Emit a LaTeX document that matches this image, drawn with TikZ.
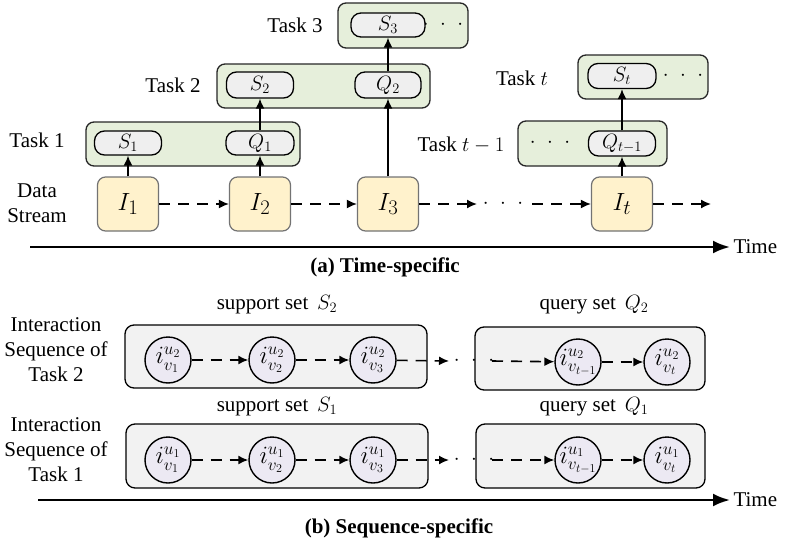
\documentclass[tikz,border=0pt]{standalone}
\usepackage{fontspec}
\setmainfont{Liberation Serif}
\usetikzlibrary{arrows,arrows.meta}
\definecolor{taskgreen}{HTML}{E6EFDB}
\definecolor{setgray}{HTML}{EFEFEF}
\definecolor{imgyellow}{HTML}{FFF2CC}
\definecolor{itemlilac}{HTML}{ECE9F3}
\definecolor{seqgray}{HTML}{F2F2F2}
\newcommand{\tdots}{$\cdot\hspace{7pt}\cdot\hspace{7pt}\cdot$}

\begin{document}
\begin{tikzpicture}[
		x=1pt, y=-1pt,
		font=\fontsize{21}{25}\selectfont,
		taskbox/.style={draw=black!85,line width=1.3pt,fill=taskgreen,rounded corners=8pt},
		setbox/.style={draw=black,line width=1.3pt,fill=setgray,rounded corners=10pt,
			inner sep=0pt,font=\fontsize{20}{22}\selectfont},
		imgbox/.style={draw=black!55,line width=1.2pt,fill=imgyellow,rounded corners=8pt,
			minimum width=61pt,minimum height=54pt,font=\fontsize{28}{30}\selectfont},
		seqbox/.style={draw=black,line width=1.3pt,fill=seqgray,rounded corners=9pt},
		item/.style={circle,draw=black,line width=1.4pt,fill=itemlilac,minimum size=46pt,
			inner sep=0pt,font=\fontsize{23}{24}\selectfont},
		flow/.style={-{Latex[length=10pt,width=9pt]},line width=1.6pt},
		dflow/.style={flow,dash pattern=on 11pt off 8pt},
		timeline/.style={-{Latex[length=17pt,width=13pt]},line width=2.6pt},
		caption/.style={font=\fontsize{21}{25}\selectfont\bfseries},
		lab/.style={align=center}
	]
		\useasboundingbox (0,0) rectangle (785,546);

		% (a) time-specific
		\node[taskbox,minimum width=130pt,minimum height=45pt] (task3) at (403,25.5) {};
		\node[taskbox,minimum width=213pt,minimum height=44pt] (task2) at (323.5,86) {};
		\node[taskbox,minimum width=214pt,minimum height=44pt] (task1) at (193,144) {};
		\node[taskbox,minimum width=130pt,minimum height=44pt] (taskt) at (643,77) {};
		\node[taskbox,minimum width=149pt,minimum height=45pt] (tasktm) at (592.5,143.5) {};

		\node[setbox,minimum width=74pt,minimum height=24pt] (s3) at (388,25) {$S_3$};
		\node (dots3) at (443,25) {\tdots};
		\node[setbox,minimum width=67pt,minimum height=26pt] (s2) at (260,85) {$S_2$};
		\node[setbox,minimum width=66pt,minimum height=26pt] (q2) at (388,85) {$Q_2$};
		\node[setbox,minimum width=67pt,minimum height=24pt] (s1) at (128,143) {$S_1$};
		\node[setbox,minimum width=68pt,minimum height=24pt] (q1) at (260,143) {$Q_1$};
		\node[setbox,minimum width=68pt,minimum height=25pt] (st) at (622,76) {$S_t$};
		\node (dotst) at (683,76) {\tdots};
		\node[setbox,minimum width=67pt,minimum height=25pt] (qtm) at (622,143.5) {$Q_{t-1}$};
		\node (dotstm) at (550,143) {\tdots};

		\node (l3) at (295,25) {Task 3};
		\node (l2) at (173,85) {Task 2};
		\node (l1) at (37,140) {Task 1};
		\node (lt) at (522,78) {Task $t$};
		\node (ltm) at (461,145) {Task $t-1$};
		\node[lab] (lds) at (37,203) {Data\\Stream};

		\node[imgbox] (i1) at (128,204) {$I_1$};
		\node[imgbox] (i2) at (260,204) {$I_2$};
		\node[imgbox] (i3) at (388,204) {$I_3$};
		\node[imgbox] (it) at (622,204) {$I_t$};
		\coordinate (ia) at (477,204);
		\node (idots) at (503,204) {\tdots};
		\coordinate (ib) at (532,204);
		\coordinate (ic) at (711,204);

		\draw[flow] (i1) -- (s1);
		\draw[flow] (i2) -- (q1);
		\draw[flow] (q1) -- (s2);
		\draw[flow] (i3) -- (q2);
		\draw[flow] (q2) -- (s3);
		\draw[flow] (it) -- (qtm);
		\draw[flow] (qtm) -- (st);
		\draw[dflow] (i1) -- (i2);
		\draw[dflow] (i2) -- (i3);
		\draw[dflow] (i3) -- (ia);
		\draw[dflow] (ib) -- (it);
		\draw[dflow] (it) -- (ic);

		\coordinate (ta0) at (30,247);
		\node[anchor=west] (timea) at (730,247) {Time};
		\draw[timeline] (ta0) -- (timea.west);
		\node[caption] (capa) at (385,267) {(a) Time-specific};

		% (b) sequence-specific
		\node[seqbox,minimum width=302pt,minimum height=63pt] (sup2) at (276,356.5) {};
		\node[seqbox,minimum width=230pt,minimum height=63pt] (qry2) at (590,358.5) {};
		\node[seqbox,minimum width=302pt,minimum height=64pt] (sup1) at (277,456) {};
		\node[seqbox,minimum width=229pt,minimum height=64pt] (qry1) at (590.5,456) {};

		\node (lsup2) at (277,305) {support set\, $S_2$};
		\node (lqry2) at (594,305) {query set\, $Q_2$};
		\node (lsup1) at (277,407) {support set\, $S_1$};
		\node (lqry1) at (594,407) {query set\, $Q_1$};
		\node[lab] (lseq2) at (56,350) {Interaction\\Sequence of\\Task 2};
		\node[lab] (lseq1) at (56,450) {Interaction\\Sequence of\\Task 1};

		\node[item] (b1) at (168,360) {$i^{u_2}_{v_1}$};
		\node[item] (b2) at (272,360) {$i^{u_2}_{v_2}$};
		\node[item] (b3) at (373,360) {$i^{u_2}_{v_3}$};
		\node[item] (b4) at (578,362) {$i^{u_2}_{v_{t-1}}$};
		\node[item] (b5) at (667,362) {$i^{u_2}_{v_t}$};
		\node[item] (a1) at (168,460) {$i^{u_1}_{v_1}$};
		\node[item] (a2) at (272,460) {$i^{u_1}_{v_2}$};
		\node[item] (a3) at (373,460) {$i^{u_1}_{v_3}$};
		\node[item] (a4) at (578,460) {$i^{u_1}_{v_{t-1}}$};
		\node[item] (a5) at (667,460) {$i^{u_1}_{v_t}$};

		\coordinate (bx) at (449,361);
		\node (bdots) at (474,361) {\tdots};
		\coordinate (by) at (492,361);
		\coordinate (ax) at (449,460);
		\node (adots) at (474,460) {\tdots};
		\coordinate (ay) at (492,460);

		\draw[dflow] (b1) -- (b2);
		\draw[dflow] (b2) -- (b3);
		\draw[dflow] (b3) -- (bx);
		\draw[dflow] (by) -- (b4);
		\draw[dflow] (b4) -- (b5);
		\draw[dflow] (a1) -- (a2);
		\draw[dflow] (a2) -- (a3);
		\draw[dflow] (a3) -- (ax);
		\draw[dflow] (ay) -- (a4);
		\draw[dflow] (a4) -- (a5);

		\coordinate (tb0) at (38,500);
		\node[anchor=west] (timeb) at (730,500) {Time};
		\draw[timeline] (tb0) -- (timeb.west);
		\node[caption] (capb) at (399,528) {(b) Sequence-specific};
	\end{tikzpicture}
\end{document}
